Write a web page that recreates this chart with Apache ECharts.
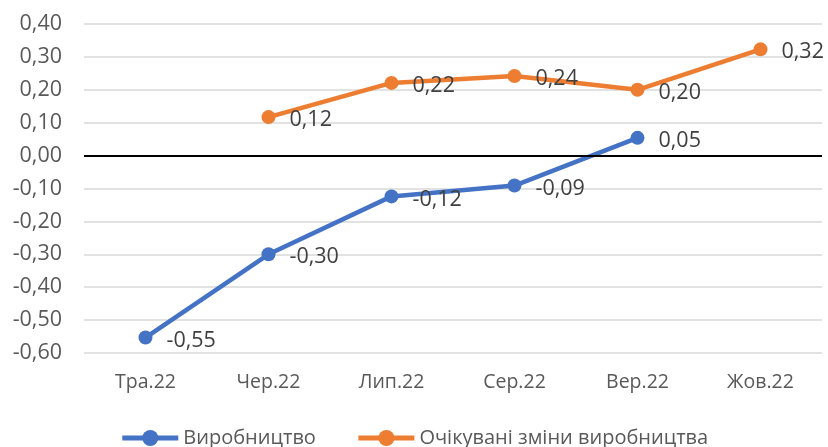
<!DOCTYPE html>
<html><head><meta charset="utf-8">
<script src="https://cdn.jsdelivr.net/npm/echarts@6/dist/echarts.min.js"></script>
<style>html,body{margin:0;padding:0;background:#fff}#c{width:828px;height:447px}</style>
</head><body><div id="c"></div>
<script>
var categories = ['Тра.22','Чер.22','Лип.22','Сер.22','Вер.22','Жов.22'];
var production = [-0.553, -0.30, -0.124, -0.091, 0.054, null];
var expected = [null, 0.117, 0.221, 0.242, 0.20, 0.323];
var seriesNames = ['Виробництво', 'Очікувані зміни виробництва'];
var yMin = -0.6, yMax = 0.4, yStep = 0.1;

var fmt = function(v){ return v.toFixed(2).replace('.', ','); };
var FONT = '"Open Sans", sans-serif';
var chart = echarts.init(document.getElementById('c'), null, {renderer:'canvas'});
function mk(name, data, color){
  return {
    name: name, type: 'line', data: data, connectNulls: false,
    symbol: 'circle', symbolSize: 14,
    lineStyle: {color: color, width: 4.5},
    itemStyle: {color: color},
    label: {show: true, position: 'right', distance: 14, offset: [0, 3],
      formatter: function(p){ return fmt(p.value); },
      color: '#404040', fontSize: 21.5, fontFamily: FONT},
    emphasis: {disabled: true}, animation: false
  };
}
chart.setOption({
  animation: false,
  grid: {left: 84, right: 6, top: 24, bottom: 94},
  legend: {
    bottom: -6, left: 'center', itemWidth: 56, itemHeight: 20, itemGap: 40,
    lineStyle: {width: 5},
    textStyle: {color: '#595959', fontSize: 20, fontFamily: FONT},
    data: seriesNames
  },
  xAxis: {
    type: 'category', data: categories, boundaryGap: true,
    axisLine: {show: false}, axisTick: {show: false},
    axisLabel: {color: '#595959', fontSize: 19.5, fontFamily: FONT, margin: 19}
  },
  yAxis: {
    type: 'value', min: yMin, max: yMax, interval: yStep,
    axisLine: {show: false}, axisTick: {show: false},
    splitLine: {lineStyle: {color: '#d9d9d9', width: 1.5}},
    axisLabel: {color: '#595959', fontSize: 21.5, fontFamily: FONT, margin: 22,
      formatter: function(v){ return fmt(v); }}
  },
  series: [
    mk(seriesNames[0], production, '#4472C4'),
    mk(seriesNames[1], expected, '#ED7D31'),
    {type: 'line', data: [], silent: true,
     markLine: {symbol: 'none', silent: true, label: {show: false},
       lineStyle: {color: '#000', width: 2, type: 'solid'},
       data: [{yAxis: 0}]}}
  ]
});
</script></body></html>
